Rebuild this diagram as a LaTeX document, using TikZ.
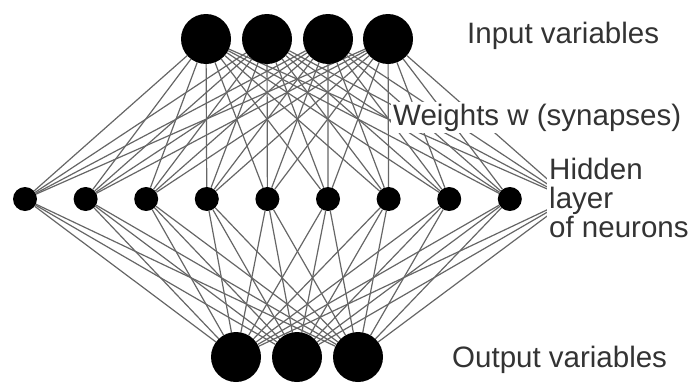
\documentclass[tikz,border=0pt]{standalone}
\usepackage{fontspec}
\setmainfont{Liberation Sans}
\usetikzlibrary{backgrounds}

\begin{document}
\begin{tikzpicture}[
  x=1pt, y=-1pt,
  big/.style={circle, fill=black, minimum size=50pt, inner sep=0pt},
  small/.style={circle, fill=black, minimum size=24pt, inner sep=0pt},
  syn/.style={draw=black!60, line width=1.2pt},
  lbl/.style={fill=white, inner sep=2pt, text=black!80, align=left,
    font=\fontsize{29.5}{29}\selectfont}
]
\useasboundingbox (0,0) rectangle (695,383);

% input layer
\foreach \i/\x in {1/206, 2/267, 3/328, 4/388}
  \node[big] (in\i) at (\x,39) {};
% hidden layer (the tenth neuron sits behind its label)
\foreach \j in {1,...,9}
  \node[small] (hid\j) at ({25+60.6*(\j-1)},199) {};
\coordinate (hid10) at (570,199);
% output layer
\foreach \k/\x in {1/236, 2/297, 3/358}
  \node[big] (out\k) at (\x,357) {};

% synapses
\begin{scope}[on background layer]
\foreach \i in {1,...,4}
  \foreach \j in {1,...,10}
    \draw[syn] (in\i) -- (hid\j);
\foreach \k in {1,...,3}
  \foreach \j in {1,...,10}
    \draw[syn] (out\k) -- (hid\j);
\end{scope}

% labels
\node[lbl, anchor=base west] (inlbl) at (465,43) {Input variables};
\node[lbl, anchor=base west] (wlbl) at (391,125) {Weights w (synapses)};
\node[lbl, anchor=north west] (hidlbl) at (547,156) {Hidden\\layer\\of neurons};
\node[lbl, anchor=base west] (outlbl) at (450,367) {Output variables};
\end{tikzpicture}
\end{document}
